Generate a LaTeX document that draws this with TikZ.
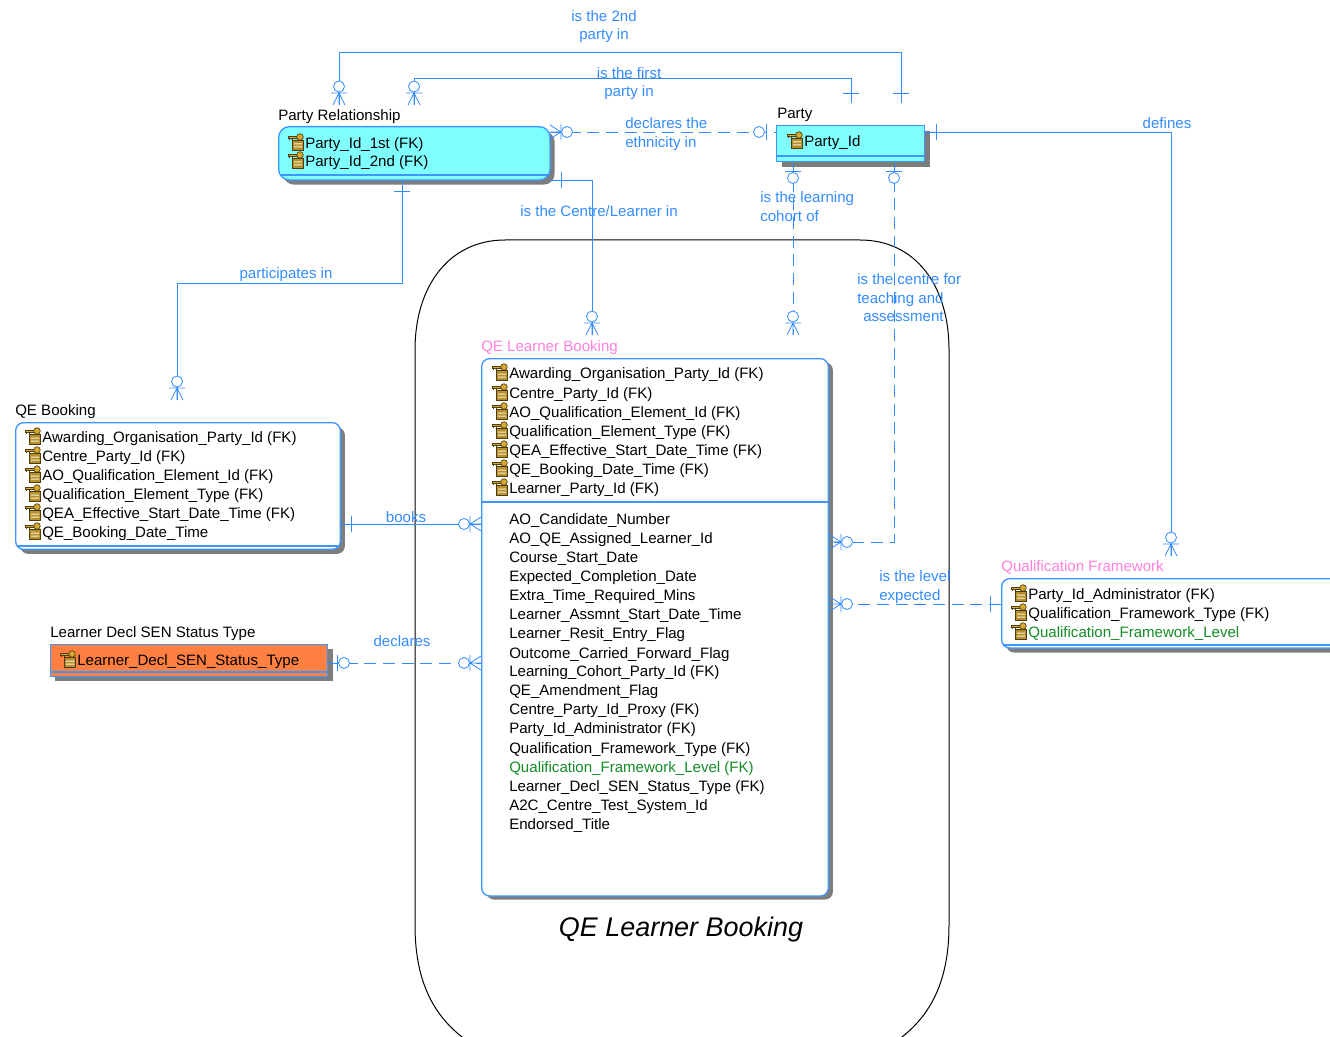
\documentclass[tikz,border=0pt]{standalone}
\usepackage{fontspec}
\setmainfont{Liberation Sans}
\usetikzlibrary{positioning}
\definecolor{relblue}{RGB}{51,140,255}
\definecolor{boxblue}{RGB}{64,150,255}
\definecolor{aquafill}{RGB}{128,255,255}
\definecolor{orangefill}{RGB}{255,128,64}
\definecolor{titlepink}{RGB}{255,128,220}
\definecolor{levelgreen}{RGB}{20,140,40}
\definecolor{shadowgrey}{RGB}{125,125,125}
\definecolor{keygold}{RGB}{214,170,50}
\definecolor{keydark}{RGB}{80,60,10}
\newcommand{\erfont}{\fontsize{11.3}{14}\selectfont}
\tikzset{
  rel/.style={draw=relblue, line width=0.7pt},
  reldash/.style={rel, dash pattern=on 9pt off 5pt},
  sym/.style={draw=relblue, line width=0.6pt},
  entity/.style={draw=boxblue, line width=1pt, anchor=north west, inner sep=0pt},
  shadowbox/.style={fill=shadowgrey, draw=none, anchor=north west, inner sep=0pt},
  rowtext/.style={anchor=west, inner sep=0pt, yshift=-1.1pt, font=\erfont},
  titletext/.style={anchor=west, inner sep=0pt, yshift=-1.1pt, font=\erfont},
  reltext/.style={text=relblue, inner sep=0pt, yshift=-1.1pt, font=\erfont},
  pics/crowopt/.style={code={
    \draw[sym] (0,-7) -- (11,0) -- (0,7) (0,0) -- (11,0) (11,-8) -- (11,8);
    \draw[sym, fill=white] (17,0) circle [radius=5.5];}},
  pics/person/.style={code={
    \draw[sym] (0,-6) -- (12,0) -- (0,6) (0,0) -- (12,0) (12,-8) -- (12,8);
    \draw[sym, fill=white] (18.5,0) circle [radius=5.5];}},
  pics/oneopt/.style={code={
    \draw[sym] (10,-8) -- (10,8);
    \draw[sym, fill=white] (17,0) circle [radius=5.5];}},
  pics/onebar/.style={code={\draw[sym] (11,-8) -- (11,8);}},
  pics/keyicon/.style={code={
    \draw[keydark, fill=keygold, line width=0.4pt] (0,2) rectangle (10,4.5);
    \draw[keydark, fill=keygold, line width=0.5pt] (12,3) circle [radius=3.3];
    \draw[keydark, line width=0.4pt] (1.5,4.5) -- (1.5,6) (4.5,4.5) -- (4.5,6);
    \draw[keydark, fill=keygold!85!black, line width=0.7pt] (4,6.5) rectangle (15.5,16.5);
    \fill[white!85!keygold] (6,9.5) rectangle (14,10.5) (6,12.5) rectangle (14,13.5);}}
}
\begin{document}
\begin{tikzpicture}[x=0.75pt, y=-0.75pt]
  \path[use as bounding box, clip] (0,0) rectangle (1330,1037);

  % subject area outline
  \draw[black, line width=0.75pt] (505,240) -- (860,240)
    .. controls (915,240) and (949,285) .. (949,350) -- (949,925)
    .. controls (949,985) and (928,1018) .. (898,1040) -- (466,1040)
    .. controls (436,1018) and (415,985) .. (415,925) -- (415,350)
    .. controls (415,285) and (450,240) .. (505,240);
  \node[font=\fontsize{20.2}{22}\selectfont\itshape, inner sep=0pt] (AREA) at (681,930) {QE Learner Booking};

  % shadows
  \node[shadowbox, rounded corners=8pt, minimum width=203.5pt, minimum height=40pt] (PRs) at (283,131) {};
  \node[shadowbox, minimum width=111pt, minimum height=27pt] (PARTYs) at (782,131) {};
  \node[shadowbox, rounded corners=6pt, minimum width=243.5pt, minimum height=95pt] (QEBs) at (20,427) {};
  \node[shadowbox, minimum width=208pt, minimum height=24pt] (DECLs) at (55,649) {};
  \node[shadowbox, rounded corners=6pt, minimum width=260pt, minimum height=403pt] (QLBs) at (486,362) {};
  \node[shadowbox, rounded corners=6pt, minimum width=252pt, minimum height=52pt] (QFs) at (1006,583) {};

  % entities
  \node[entity, fill=aquafill, rounded corners=8pt, minimum width=203.5pt, minimum height=40pt] (PR) at (278,126) {};
  \node[entity, fill=aquafill, minimum width=111pt, minimum height=27pt] (PARTY) at (776,125) {};
  \node[entity, fill=white, rounded corners=6pt, minimum width=243.5pt, minimum height=95pt] (QEB) at (15,422) {};
  \node[entity, fill=orangefill, minimum width=207.5pt, minimum height=24pt] (DECL) at (50,644) {};
  \node[entity, fill=white, rounded corners=6pt, minimum width=260pt, minimum height=403pt] (QLB) at (481,358) {};
  \node[entity, fill=white, rounded corners=6pt, minimum width=252pt, minimum height=52pt] (QF) at (1001,578) {};
  \draw[draw=boxblue, line width=0.8pt] (280,175) -- (548,175);
  \draw[draw=boxblue, line width=0.8pt] (776,156) -- (925,156);
  \draw[draw=boxblue, line width=0.8pt] (17,546) -- (338,546);
  \draw[draw=boxblue, line width=0.8pt] (50,672) -- (327,672);
  \draw[draw=boxblue, line width=0.8pt] (481,502) -- (829,502);
  \draw[draw=boxblue, line width=0.8pt] (1003,645) -- (1330,645);

  % titles
  \node[titletext] (PRt) at (278,115) {Party Relationship};
  \node[titletext] (PARTYt) at (777,113) {Party};
  \node[titletext] (QEBt) at (15,410) {QE Booking};
  \node[titletext] (DECLt) at (50,632) {Learner Decl SEN Status Type};
  \node[titletext, text=titlepink] (QLBt) at (481,346) {QE Learner Booking};
  \node[titletext, text=titlepink] (QFt) at (1001,566) {Qualification Framework};

  % key columns
  \foreach \rowy/\rowtxt [count=\i] in {143/Party\_Id\_1st (FK), 161/Party\_Id\_2nd (FK)} {
    \pic at (288,\rowy-9) {keyicon};
    \node[rowtext] (PR-\i) at (305,\rowy) {\rowtxt};
  }
  \pic at (787,132) {keyicon};
  \node[rowtext] (PARTY-1) at (804,141) {Party\_Id};
  \foreach \rowy/\rowtxt [count=\i] in {437/Awarding\_Organisation\_Party\_Id (FK), 456/Centre\_Party\_Id (FK),
      475/AO\_Qualification\_Element\_Id (FK), 494/Qualification\_Element\_Type (FK),
      513/QEA\_Effective\_Start\_Date\_Time (FK), 532/QE\_Booking\_Date\_Time} {
    \pic at (25,\rowy-9) {keyicon};
    \node[rowtext] (QEB-\i) at (42,\rowy) {\rowtxt};
  }
  \pic at (60,651) {keyicon};
  \node[rowtext] (DECL-1) at (77,660) {Learner\_Decl\_SEN\_Status\_Type};
  \foreach \rowy/\rowtxt [count=\i] in {373/Awarding\_Organisation\_Party\_Id (FK), 393/Centre\_Party\_Id (FK),
      412/AO\_Qualification\_Element\_Id (FK), 431/Qualification\_Element\_Type (FK),
      450/QEA\_Effective\_Start\_Date\_Time (FK), 469/QE\_Booking\_Date\_Time (FK), 488/Learner\_Party\_Id (FK)} {
    \pic at (492,\rowy-9) {keyicon};
    \node[rowtext] (QLB-\i) at (509,\rowy) {\rowtxt};
  }
  \foreach \rowy/\rowtxt [count=\i] in {594/Party\_Id\_Administrator (FK), 613/Qualification\_Framework\_Type (FK),
      632/\textcolor{levelgreen}{Qualification\_Framework\_Level}} {
    \pic at (1011,\rowy-9) {keyicon};
    \node[rowtext] (QF-\i) at (1028,\rowy) {\rowtxt};
  }

  % other columns
  \foreach \rowy/\rowtxt [count=\i] in {519/AO\_Candidate\_Number, 538/AO\_QE\_Assigned\_Learner\_Id,
      557/Course\_Start\_Date, 576/Expected\_Completion\_Date, 595/Extra\_Time\_Required\_Mins,
      614/Learner\_Assmnt\_Start\_Date\_Time, 633/Learner\_Resit\_Entry\_Flag, 653/Outcome\_Carried\_Forward\_Flag,
      671/Learning\_Cohort\_Party\_Id (FK), 690/QE\_Amendment\_Flag, 709/Centre\_Party\_Id\_Proxy (FK),
      728/Party\_Id\_Administrator (FK), 748/Qualification\_Framework\_Type (FK),
      767/\textcolor{levelgreen}{Qualification\_Framework\_Level (FK)}, 786/Learner\_Decl\_SEN\_Status\_Type (FK),
      805/A2C\_Centre\_Test\_System\_Id, 824/Endorsed\_Title} {
    \node[rowtext] (QLBn-\i) at (509,\rowy) {\rowtxt};
  }

  % connector ends
  \coordinate (PR-second) at (339,105);
  \coordinate (PR-first) at (414,105);
  \coordinate (PR-east) at (550,132);
  \coordinate (PR-lower) at (550,180);
  \coordinate (PR-south) at (402,180);
  \coordinate (PARTY-second) at (901,103);
  \coordinate (PARTY-first) at (851,103);
  \coordinate (PARTY-west) at (776,132);
  \coordinate (PARTY-east) at (925,132);
  \coordinate (PARTY-cohort) at (793,161);
  \coordinate (PARTY-centre) at (894,161);
  \coordinate (QLB-top) at (592,335);
  \coordinate (QLB-cohort) at (793,335);
  \coordinate (QLB-centre) at (830,542);
  \coordinate (QLB-level) at (830,604);
  \coordinate (QLB-books) at (481,524);
  \coordinate (QLB-decl) at (481,663);
  \coordinate (QEB-top) at (177,400);
  \coordinate (QEB-east) at (340,524);
  \coordinate (DECL-east) at (327,663);
  \coordinate (QF-top) at (1171,556);
  \coordinate (QF-west) at (1001,604);

  % relationships
  \draw[rel] (PARTY-second) -- (901,52) -- (339,52) -- (PR-second);
  \draw[rel] (PARTY-first) -- (851,78) -- (414,78) -- (PR-first);
  \draw[reldash] (PR-east) -- (PARTY-west);
  \draw[rel] (PR-lower) -- (592,180) -- (QLB-top);
  \draw[rel] (PR-south) -- (402,283) -- (177,283) -- (QEB-top);
  \draw[reldash] (PARTY-cohort) -- (QLB-cohort);
  \draw[reldash] (PARTY-centre) -- (894,542) -- (QLB-centre);
  \draw[rel] (PARTY-east) -- (1171,132) -- (QF-top);
  \draw[rel] (QEB-east) -- (QLB-books);
  \draw[reldash] (DECL-east) -- (QLB-decl);
  \draw[reldash] (QF-west) -- (QLB-level);

  % line ends
  \pic[rotate=90] at (PR-second) {person};
  \pic[rotate=90] at (PR-first) {person};
  \pic[rotate=90] at (QLB-top) {person};
  \pic[rotate=90] at (QLB-cohort) {person};
  \pic[rotate=90] at (QEB-top) {person};
  \pic[rotate=90] at (QF-top) {person};
  \pic at (PR-east) {crowopt};
  \pic at (QLB-centre) {crowopt};
  \pic at (QLB-level) {crowopt};
  \pic[rotate=180] at (QLB-books) {crowopt};
  \pic[rotate=180] at (QLB-decl) {crowopt};
  \pic[rotate=180] at (PARTY-west) {oneopt};
  \pic[rotate=-90] at (PARTY-cohort) {oneopt};
  \pic[rotate=-90] at (PARTY-centre) {oneopt};
  \pic at (DECL-east) {oneopt};
  \pic at (PR-lower) {onebar};
  \pic[rotate=-90] at (PR-south) {onebar};
  \pic at (PARTY-east) {onebar};
  \pic at (QEB-east) {onebar};
  \pic[rotate=180] at (QF-west) {onebar};
  \pic[rotate=-90] at (901,82) {onebar};
  \pic[rotate=-90] at (851,82) {onebar};

  % relationship labels
  \node[reltext, align=center] (L2nd) at (604,25) {is the 2nd\\party in};
  \node[reltext, align=center] (L1st) at (629,82) {is the first\\party in};
  \node[reltext, align=left, anchor=north west] (Leth) at (625,116) {declares the\\ethnicity in};
  \node[reltext] (Lcen) at (599,210) {is the Centre/Learner in};
  \node[reltext] (Lpart) at (286,273) {participates in};
  \node[reltext, align=left, anchor=north west] (Lcoh) at (760,190) {is the learning\\cohort of};
  \node[reltext, align=left, anchor=north west] (Lteach) at (857,272) {is the centre for\\teaching and\\\hspace*{4.5pt}assessment};
  \node[reltext] (Ldef) at (1167,122) {defines};
  \node[reltext] (Lbook) at (406,516) {books};
  \node[reltext] (Ldecl) at (402,640) {declares};
  \node[reltext, align=left, anchor=north west] (Llev) at (879,569) {is the level\\expected};
\end{tikzpicture}
\end{document}
